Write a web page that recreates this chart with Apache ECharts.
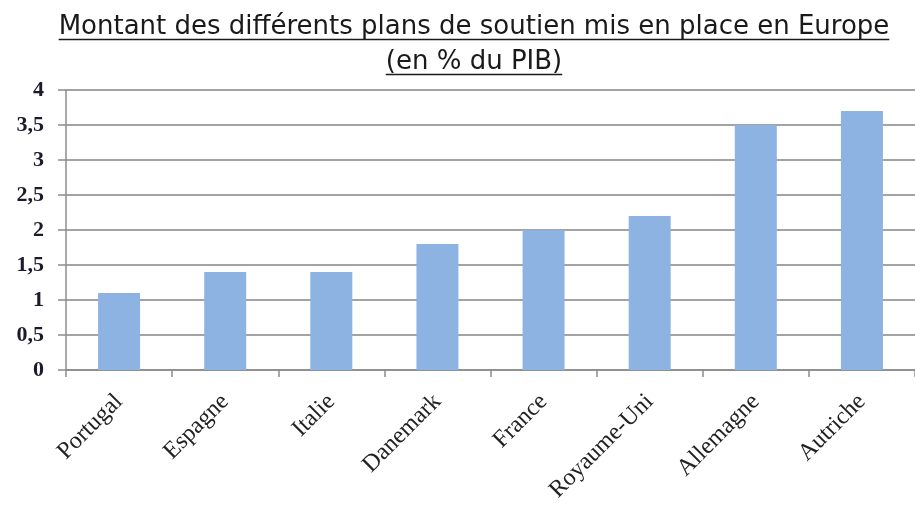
<!DOCTYPE html>
<html>
<head>
<meta charset="utf-8">
<script src="https://cdn.jsdelivr.net/npm/echarts@6/dist/echarts.min.js"></script>
<style>
  html, body { margin: 0; padding: 0; background: #fff; }
  #main { width: 915px; height: 507px; }
</style>
</head>
<body>
<div id="main"></div>
<script>
// données
var titleLines = ['Montant des différents plans de soutien mis en place en Europe', '(en % du PIB)'];
var pays = ['Portugal', 'Espagne', 'Italie', 'Danemark', 'France', 'Royaume-Uni', 'Allemagne', 'Autriche'];
var montants = [1.1, 1.4, 1.4, 1.8, 2.0, 2.2, 3.5, 3.7];
var yTicks = ['0', '0,5', '1', '1,5', '2', '2,5', '3', '3,5', '4'];

(function () {
    var myChart = echarts.init(document.getElementById('main'));

    var titleFamily = 'DejaVu Sans';
    var titleSize = 26;
    var titleX = 474;
    var lineH = 35;
    var titleTop = 10;

    // largeur du texte pour le soulignement
    var ctx = document.createElement('canvas').getContext('2d');
    ctx.font = titleSize + 'px "' + titleFamily + '"';
    var underlines = titleLines.map(function (t, i) {
        var w = ctx.measureText(t).width;
        var y = titleTop + lineH * i + 29.5;
        return {
            type: 'line',
            shape: { x1: titleX - w / 2, y1: y, x2: titleX + w / 2, y2: y },
            style: { stroke: '#1a1a1a', lineWidth: 1.5 },
            silent: true
        };
    });

    var option = {
        backgroundColor: '#fff',
        animation: false,
        title: {
            text: titleLines.join('\n'),
            left: titleX,
            top: titleTop,
            padding: 0,
            textAlign: 'center',
            textStyle: {
                fontFamily: titleFamily,
                fontSize: titleSize,
                fontWeight: 'normal',
                color: '#1a1a1a',
                lineHeight: lineH
            }
        },
        graphic: underlines,
        grid: {
            left: 66,
            top: 90,
            right: -7,
            bottom: 137,
            containLabel: false
        },
        xAxis: {
            type: 'category',
            data: pays,
            axisLine: { lineStyle: { color: '#8c8c8c', width: 1.5 } },
            axisTick: { show: true, length: 7, lineStyle: { color: '#8c8c8c', width: 1.5 } },
            axisLabel: {
                rotate: 45,
                margin: 28,
                interval: 0,
                fontFamily: 'Liberation Serif',
                fontSize: 24,
                color: '#222'
            }
        },
        yAxis: {
            type: 'value',
            min: 0,
            max: 4,
            interval: 0.5,
            axisLine: { show: true, lineStyle: { color: '#8c8c8c', width: 1.5 } },
            axisTick: { show: true, length: 8, lineStyle: { color: '#8c8c8c', width: 1.5 } },
            axisLabel: {
                margin: 22,
                fontFamily: 'Liberation Serif',
                fontSize: 22,
                fontWeight: 'bold',
                color: '#1b1b2b',
                formatter: function (v) {
                    return yTicks[Math.round(v / 0.5)];
                }
            },
            splitLine: { lineStyle: { color: '#a3a3a3', width: 2 } }
        },
        series: [
            {
                type: 'bar',
                data: montants,
                barWidth: 42,
                itemStyle: { color: '#8db3e2' }
            }
        ]
    };

    myChart.setOption(option);
})();
</script>
</body>
</html>
